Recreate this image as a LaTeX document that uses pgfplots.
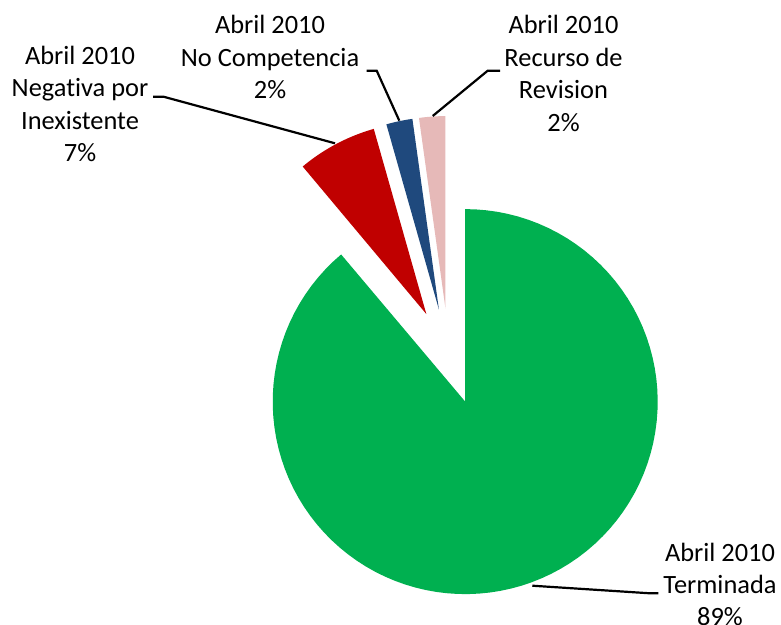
\documentclass[border=0pt]{standalone}
\usepackage{pgfplots}
\pgfplotsset{compat=1.18}
\usepackage{pgfplotstable}
\usepackage{fontspec}
\setmainfont{Carlito}[Ligatures=NoCommon]
\definecolor{cgreen}{HTML}{00B050}
\definecolor{cred}{HTML}{C00000}
\definecolor{cblue}{HTML}{1F497D}
\definecolor{cpink}{HTML}{E6B9B8}

\pgfplotstableread{
slice value
Terminada 88.9
Negativa 6.7
NoCompetencia 2.2
Recurso 2.2
}\piedata

\newcommand\lbl{\fontsize{26.5}{32.5}\selectfont}
\def\cx{448.8}\def\cy{356.5}\def\ex{48}\def\R{192.5}
\newcommand\pieslice[3]{%
\addplot[fill=#3, draw=none, samples at={-1,0,0.01,...,1}]
 ({\cx+\ex*sin((#1+#2)/2)+(x>=0)*\R*sin(#1+max(x,0)*(#2-#1))},
  {\cy-\ex*cos((#1+#2)/2)-(x>=0)*\R*cos(#1+max(x,0)*(#2-#1))});
}

\begin{document}
\pgfplotstablegetelem{0}{value}\of\piedata\pgfmathsetmacro\va{\pgfplotsretval}%
\pgfplotstablegetelem{1}{value}\of\piedata\pgfmathsetmacro\vb{\pgfplotsretval}%
\pgfplotstablegetelem{2}{value}\of\piedata\pgfmathsetmacro\vc{\pgfplotsretval}%
\pgfplotstablegetelem{3}{value}\of\piedata\pgfmathsetmacro\vd{\pgfplotsretval}%
\pgfmathsetmacro\aA{0}%
\pgfmathsetmacro\aB{\aA+3.6*\va}%
\pgfmathsetmacro\aC{\aB+3.6*\vb}%
\pgfmathsetmacro\aD{\aC+3.6*\vc}%
\pgfmathsetmacro\aE{\aD+3.6*\vd}%
\begin{tikzpicture}
\begin{axis}[
  scale only axis, x=1bp, y=1bp, y dir=reverse,
  xmin=0, xmax=781, ymin=0, ymax=625,
  hide axis, clip=false]
\pieslice{\aA}{\aB}{cgreen}
\pieslice{\aB}{\aC}{cred}
\pieslice{\aC}{\aD}{cblue}
\pieslice{\aD}{\aE}{cpink}
% leader lines
\draw[line width=2.2bp] (153,96.7) -- (163.5,96.7) -- (335,143.3);
\draw[line width=2.2bp] (366.7,70.7) -- (376.7,70.7) -- (399.3,120.7);
\draw[line width=2.2bp] (500,70.7) -- (487.7,70.7) -- (432.7,116);
\draw[line width=2.2bp] (532.3,585.7) -- (650,593.3) -- (658.3,593.3);
% labels
\node[align=center, font=\lbl, inner sep=0] at (80,104) {Abril 2010\\Negativa por\\Inexistente\\7\%};
\node[align=center, font=\lbl, inner sep=0] at (270,57) {Abril 2010\\No Competencia\\2\%};
\node[align=center, font=\lbl, inner sep=0] at (563.5,73.5) {Abril 2010\\Recurso de\\Revision\\2\%};
\node[align=center, font=\lbl, inner sep=0] at (720,584.5) {Abril 2010\\Terminada\\89\%};
\end{axis}
\pgfresetboundingbox
\path[use as bounding box] (current axis.south west) rectangle (current axis.north east);
\end{tikzpicture}
\end{document}
